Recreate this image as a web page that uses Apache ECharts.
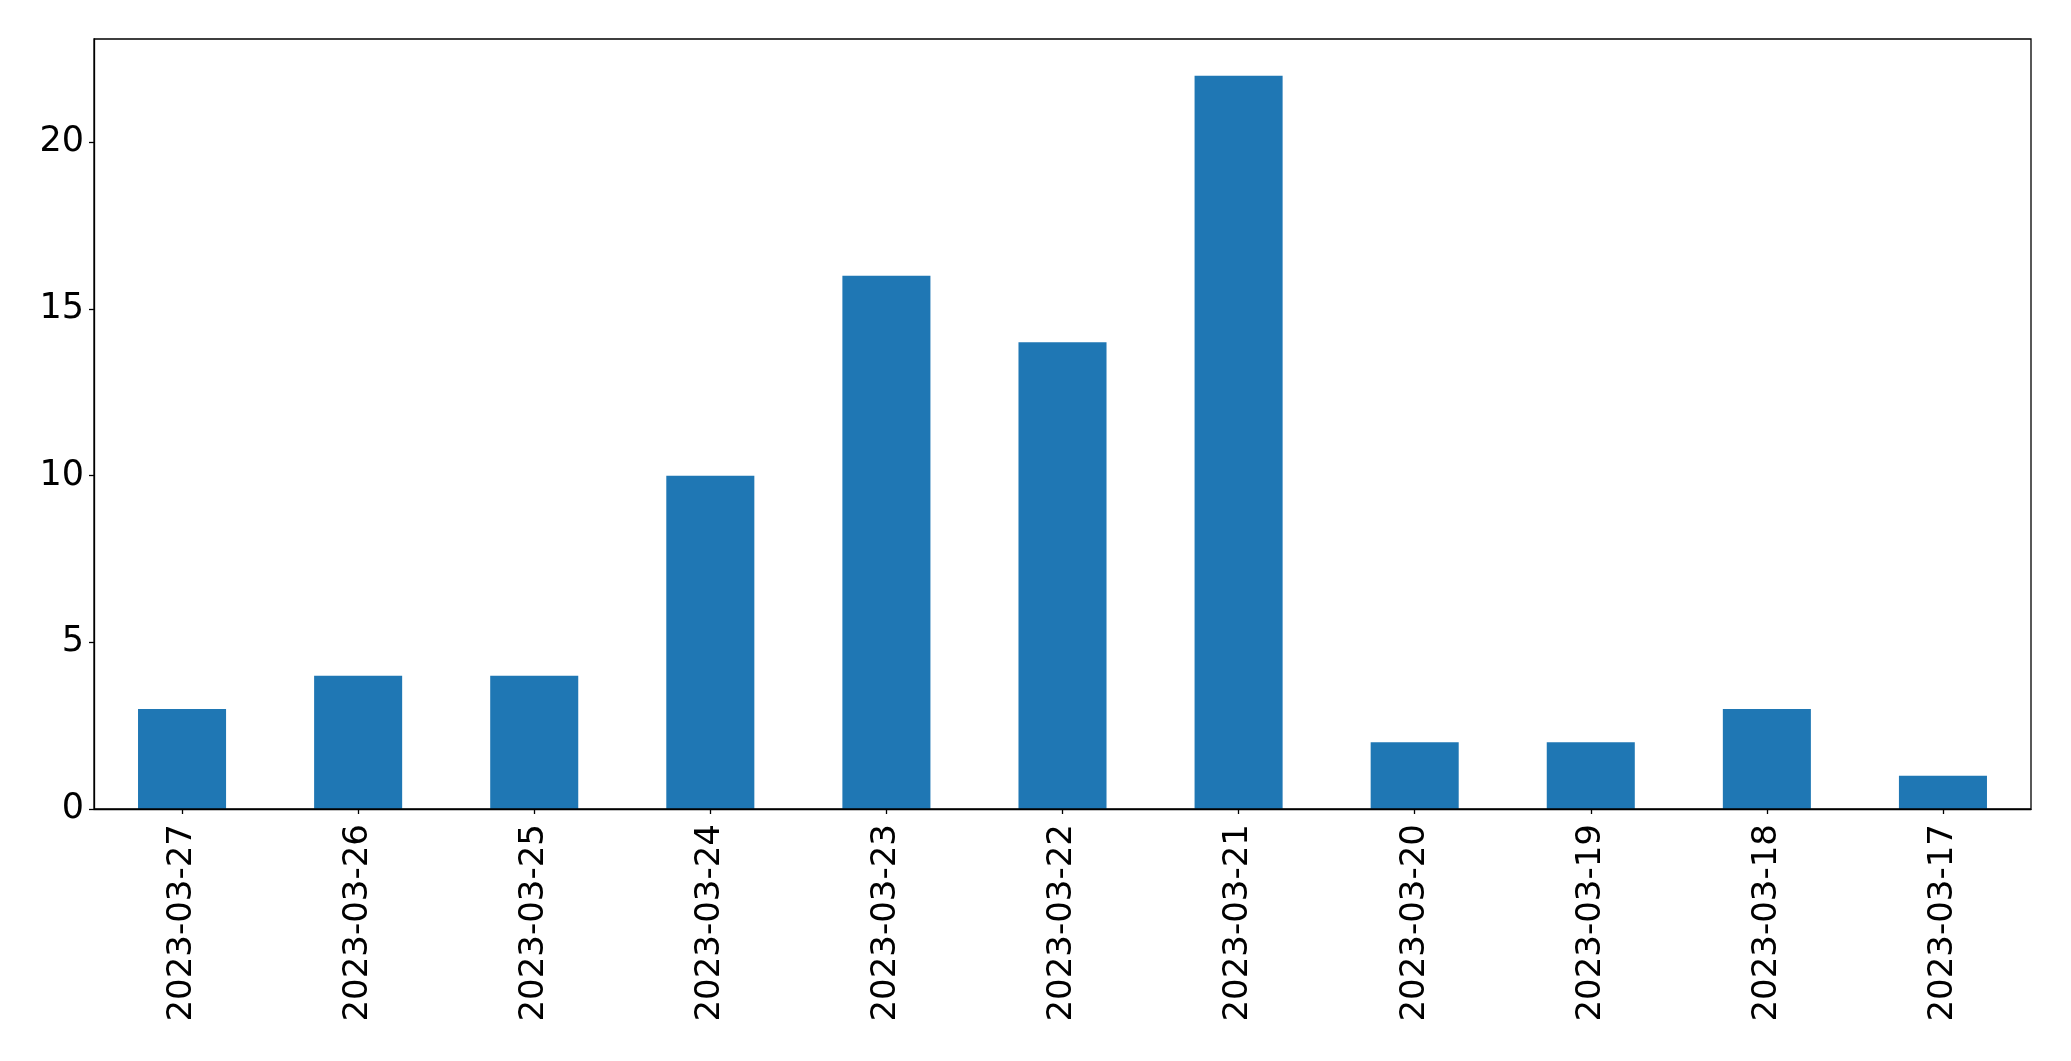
<!DOCTYPE html>
<html>
<head>
<meta charset="utf-8">
<script src="https://cdn.jsdelivr.net/npm/echarts@6/dist/echarts.min.js"></script>
<style>
html,body{margin:0;padding:0;background:#fff;}
#chart{width:2071px;height:1061px;}
</style>
</head>
<body>
<div id="chart"></div>
<script>
const categories = ["2023-03-27","2023-03-26","2023-03-25","2023-03-24","2023-03-23","2023-03-22","2023-03-21","2023-03-20","2023-03-19","2023-03-18","2023-03-17"];
const values = [3,4,4,10,16,14,22,2,2,3,1];
const yTicks = [0,5,10,15,20];

const chart = echarts.init(document.getElementById('chart'), null, {renderer:'canvas'});
const font = 'DejaVu Sans';
chart.setOption({
  animation: false,
  backgroundColor: '#fff',
  grid: {left: 94, right: 40, top: 39, bottom: 252, containLabel: false},
  xAxis: {
    type: 'category',
    data: categories,
    boundaryGap: true,
    axisLine: {show: true, lineStyle: {color: '#000', width: 1.3}},
    axisTick: {show: true, alignWithLabel: true, length: 5, lineStyle: {color: '#000', width: 1.3}},
    axisLabel: {rotate: 90, margin: 15, color: '#000', fontSize: 34, fontFamily: font, interval: 0},
    splitLine: {show: false}
  },
  yAxis: {
    type: 'value',
    min: 0,
    max: 23.1,
    interval: 5,
    axisLine: {show: true, lineStyle: {color: '#000', width: 1.3}},
    axisTick: {show: true, length: 5, lineStyle: {color: '#000', width: 1.3}},
    axisLabel: {margin: 10, color: '#000', fontSize: 35, fontFamily: font,
      showMaxLabel: false,
      formatter: function(v){ return yTicks.indexOf(v) >= 0 ? String(v) : ''; }},
    splitLine: {show: false}
  },
  series: [{
    type: 'bar',
    data: values,
    barWidth: '50%',
    itemStyle: {color: '#1f77b4'}
  }],
  graphic: [{
    type: 'rect',
    shape: {x: 94, y: 39, width: 2071-94-40, height: 1061-39-252},
    style: {fill: 'none', stroke: '#000', lineWidth: 1.3},
    silent: true,
    z: 100
  }]
});
</script>
</body>
</html>
